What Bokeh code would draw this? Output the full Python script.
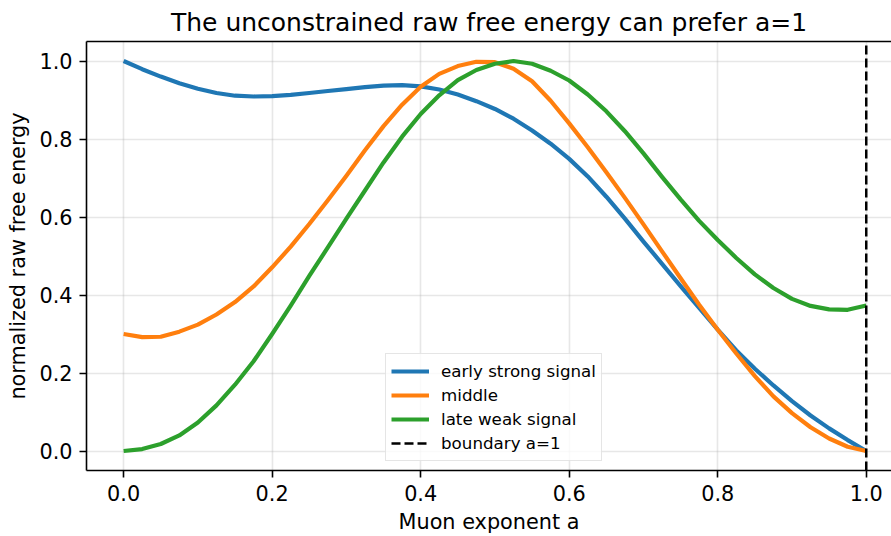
from bokeh.plotting import figure
from bokeh.models import (LinearAxis, FixedTicker, PrintfTickFormatter, Legend,
                          LegendItem, Range1d)
from bokeh.embed import file_html
from bokeh.resources import INLINE

# ---- data ----
a_values = [0.000, 0.025, 0.050, 0.075, 0.100, 0.125, 0.150, 0.175, 0.200, 0.225,
            0.250, 0.275, 0.300, 0.325, 0.350, 0.375, 0.400, 0.425, 0.450, 0.475,
            0.500, 0.525, 0.550, 0.575, 0.600, 0.625, 0.650, 0.675, 0.700, 0.725,
            0.750, 0.775, 0.800, 0.825, 0.850, 0.875, 0.900, 0.925, 0.950, 0.975,
            1.000]

early_strong = [1.000, 0.979, 0.960, 0.943, 0.929, 0.918, 0.911, 0.909, 0.910, 0.913,
                0.918, 0.923, 0.928, 0.933, 0.937, 0.938, 0.935, 0.927, 0.914, 0.897,
                0.877, 0.852, 0.822, 0.788, 0.749, 0.704, 0.652, 0.596, 0.537, 0.480,
                0.423, 0.367, 0.311, 0.258, 0.211, 0.168, 0.128, 0.091, 0.058, 0.028,
                0.000]

middle = [0.300, 0.292, 0.293, 0.306, 0.324, 0.350, 0.382, 0.422, 0.471, 0.524,
          0.582, 0.643, 0.706, 0.771, 0.833, 0.888, 0.934, 0.967, 0.987, 0.998,
          0.997, 0.980, 0.948, 0.898, 0.840, 0.779, 0.715, 0.649, 0.581, 0.512,
          0.443, 0.375, 0.311, 0.250, 0.192, 0.140, 0.097, 0.061, 0.032, 0.011,
          0.000]

late_weak = [0.000, 0.005, 0.018, 0.040, 0.073, 0.117, 0.170, 0.230, 0.300, 0.373,
             0.449, 0.522, 0.596, 0.668, 0.740, 0.806, 0.864, 0.912, 0.951, 0.977,
             0.993, 1.000, 0.993, 0.975, 0.950, 0.914, 0.871, 0.820, 0.763, 0.703,
             0.645, 0.590, 0.541, 0.495, 0.453, 0.418, 0.390, 0.372, 0.363, 0.362,
             0.373]

boundary_a = 1.0
series_labels = ["early strong signal", "middle", "late weak signal", "boundary a=1"]
series_colors = ["#1f77b4", "#ff7f0e", "#2ca02c"]
x_ticks = [0.0, 0.2, 0.4, 0.6, 0.8, 1.0]
y_ticks = [0.0, 0.2, 0.4, 0.6, 0.8, 1.0]

FONT = "DejaVu Sans"
X_START, X_END = -0.05, 1.034
Y_START, Y_END = -0.05, 1.05

p = figure(width=891, height=536, output_backend="svg", toolbar_location=None,
           x_range=Range1d(X_START, X_END), y_range=Range1d(Y_START, Y_END),
           min_border_left=86, min_border_right=0, min_border_top=40,
           min_border_bottom=65, background_fill_color="white",
           border_fill_color="white", outline_line_color=None)

p.title.text = "The unconstrained raw free energy can prefer a=1"
p.title.text_font = FONT
p.title.text_font_size = "25px"
p.title.text_font_style = "normal"
p.title.text_color = "black"
p.title.align = "center"
p.title.offset = 5
p.title.standoff = 10

# grid
for g in (p.xgrid, p.ygrid):
    g.grid_line_color = "#b0b0b0"
    g.grid_line_alpha = 0.3
    g.grid_line_width = 1.6
p.xgrid.ticker = FixedTicker(ticks=x_ticks)
p.ygrid.ticker = FixedTicker(ticks=y_ticks)

# axes
for ax, ticks in ((p.xaxis[0], x_ticks), (p.yaxis[0], y_ticks)):
    ax.ticker = FixedTicker(ticks=ticks)
    ax.formatter = PrintfTickFormatter(format="%.1f")
    ax.major_label_text_font = FONT
    ax.major_label_text_font_size = "20.8px"
    ax.major_label_text_color = "black"
    ax.axis_label_text_font = FONT
    ax.axis_label_text_font_size = "20.8px"
    ax.axis_label_text_font_style = "normal"
    ax.axis_label_text_color = "black"
    ax.axis_line_color = "black"
    ax.axis_line_width = 1.6
    ax.major_tick_line_color = "black"
    ax.major_tick_line_width = 1.6
    ax.major_tick_out = 7
    ax.major_tick_in = 0
    ax.minor_tick_line_color = None
    ax.major_label_standoff = 7
p.xaxis.axis_label = "Muon exponent a"
p.yaxis.axis_label = "normalized raw free energy"
p.xaxis.axis_label_standoff = 6
p.yaxis.axis_label_standoff = 6

top_axis = LinearAxis(axis_line_color="black", axis_line_width=1.6,
                      major_tick_line_color=None, minor_tick_line_color=None,
                      major_tick_out=0, major_tick_in=0, major_label_standoff=0,
                      major_label_text_font_size="0px",
                      ticker=FixedTicker(ticks=[]))
p.add_layout(top_axis, "above")

# curves
r1 = p.line(a_values, early_strong, line_color=series_colors[0], line_width=4.2,
            line_join="round", line_cap="butt")
r2 = p.line(a_values, middle, line_color=series_colors[1], line_width=4.2,
            line_join="round", line_cap="butt")
r3 = p.line(a_values, late_weak, line_color=series_colors[2], line_width=4.2,
            line_join="round", line_cap="butt")
r4 = p.line([boundary_a, boundary_a], [Y_START - 0.1, Y_END + 0.1],
            line_color="black", line_width=2.5, line_dash="9 4")

legend = Legend(items=[LegendItem(label=series_labels[i], renderers=[r])
                       for i, r in enumerate([r1, r2, r3, r4])],
                location=(299, 9), orientation="vertical",
                label_text_font=FONT, label_text_font_size="16.7px",
                label_text_color="black",
                glyph_width=38, glyph_height=24, label_height=24,
                label_standoff=12, padding=5, spacing=0, margin=0,
                border_line_color="#cccccc", border_line_width=1.3,
                background_fill_color="white", background_fill_alpha=0.8)
p.add_layout(legend, "center")

open("out.html", "w").write(file_html(p, INLINE))
